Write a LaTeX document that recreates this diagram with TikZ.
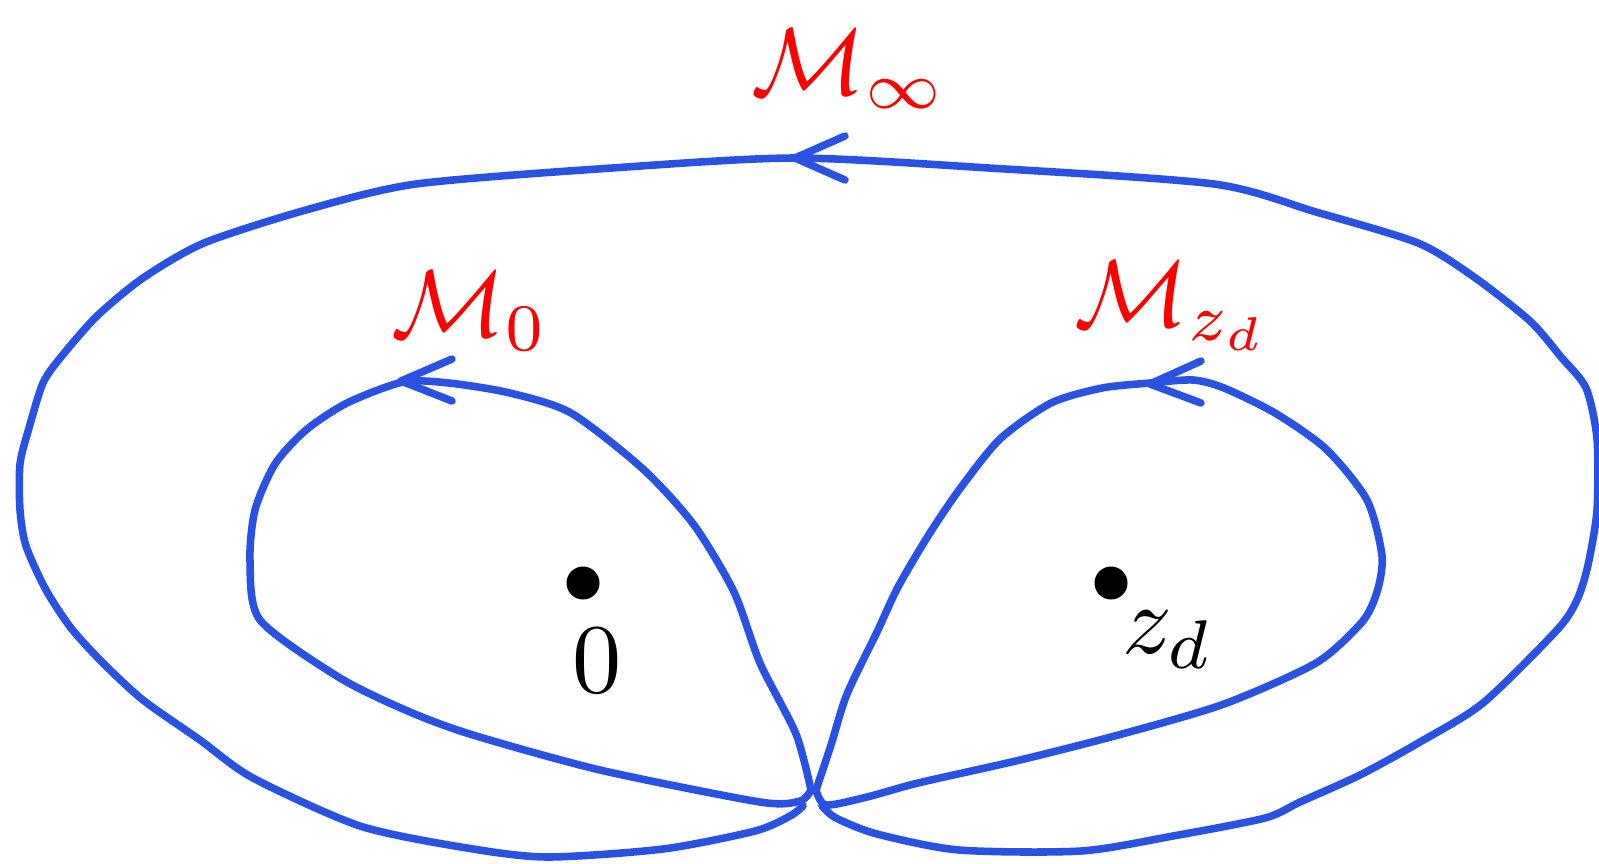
\documentclass[tikz,border=0pt]{standalone}
\usepackage{amsmath}
\definecolor{loopblue}{RGB}{42,82,226}
\begin{document}
\begin{tikzpicture}[x=0.02cm,y=-0.02cm,
  loop/.style={draw=loopblue,line width=4.3pt,line cap=round,line join=round},
  lbl/.style={text=red,scale=5.4,inner sep=0pt},
  ptlbl/.style={text=black,scale=5.6,inner sep=0pt},
  dot/.style={circle,fill=black,minimum size=0.66cm,inner sep=0pt}]
\useasboundingbox (0,0) rectangle (1599,863);
% outer curve
\draw[loop] plot[smooth,tension=0.45] coordinates {
 (803,806) (790,816) (755,831) (663,849) (547,857) (467,848) (360,826) (253,778) (200,740) (143,700) (102,662) (71,628) (46,590) (26,546) (20,510) (20,464) (29,428) (43,383) (61,357) (97,316) (143,278) (204,243) (306,210) (416,184) (612,168) (795,158)
 (989,168) (1214,184) (1316,212) (1418,243) (1474,277) (1530,321) (1561,357) (1586,388) (1597,439) (1597,510) (1588,565) (1577,600) (1557,630) (1483,703) (1420,742) (1360,775) (1300,802) (1265,818) (1173,836) (1081,851) (959,850) (877,834) (836,818) (822,806)};
% left inner loop
\draw[loop] plot[smooth,tension=0.45] coordinates {
 (811,790) (796,734) (760,663) (734,592) (694,525) (643,469) (571,413) (510,393) (449,383) (403,382) (347,403) (306,430) (275,464) (255,510) (250,561) (260,620) (340,678) (410,712) (473,735) (600,770) (760,802) (800,801) (811,790)};
% right inner loop
\draw[loop] plot[smooth,tension=0.45] coordinates {
 (816,790) (831,745) (847,694) (877,632) (898,587) (928,536) (959,490) (1000,439) (1051,403) (1102,388) (1150,383) (1193,380) (1224,388) (1275,413) (1326,449) (1367,500) (1382,556) (1377,592) (1362,622) (1316,663) (1224,704) (1122,734) (1020,760) (918,783) (867,797) (826,805) (816,790)};
% arrowheads
\draw[loop] (845,136) -- (795,158) -- (845,180);
\draw[loop] (452,359) -- (401,381) -- (452,401);
\draw[loop] (1201,361) -- (1150,384) -- (1201,403);
% points
\node[dot] (p0) at (583,583) {};
\node[dot] (pz) at (1111,583) {};
\node[ptlbl] (l0) at (597,661) {$0$};
\node[ptlbl] (lz) at (1168,640) {$z_d$};
% loop labels
\node[lbl] (minf) at (849,69) {$\mathcal{M}_\infty$};
\node[lbl] (m0) at (470,311) {$\mathcal{M}_0$};
\node[lbl] (mz) at (1172,306) {$\mathcal{M}_{z_d}$};
\end{tikzpicture}
\end{document}
